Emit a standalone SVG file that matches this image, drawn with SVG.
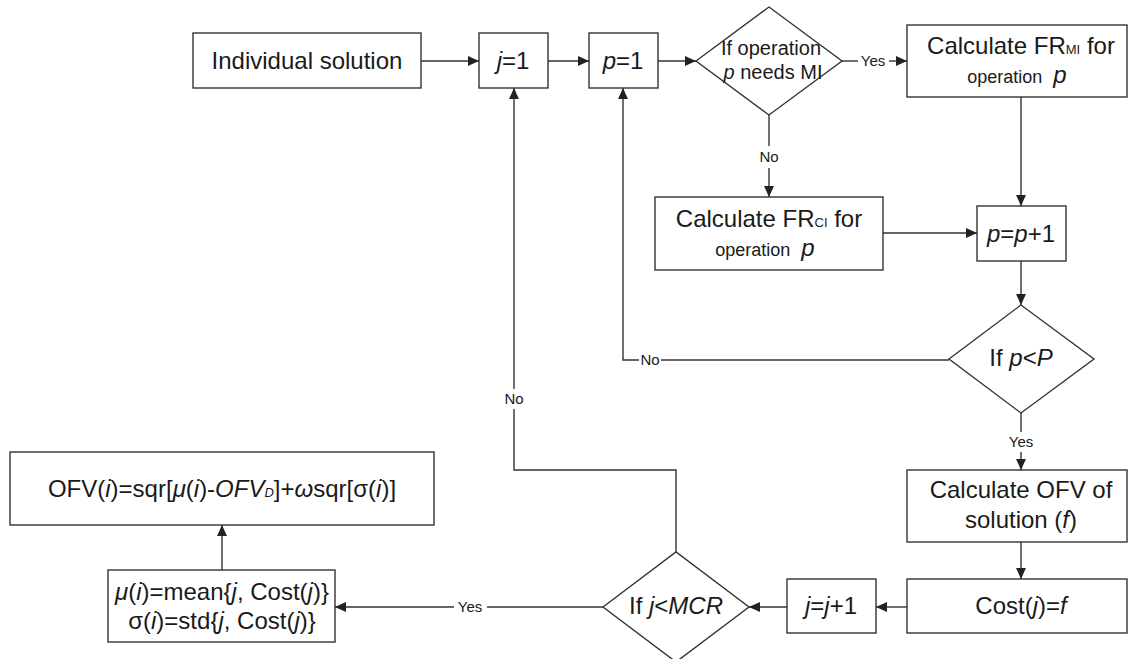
<svg xmlns="http://www.w3.org/2000/svg" width="1131" height="659" viewBox="0 0 1131 659">
<defs>
<style>
.box{fill:#fff;stroke:#333;stroke-width:1.4}
.ln{fill:none;stroke:#333;stroke-width:1.4}
.t{font-family:"Liberation Sans",Arial,sans-serif;font-size:24px;fill:#1a1a1a;text-anchor:middle}
.d{font-size:20px}
.s{font-size:18px}
.lb{font-family:"Liberation Sans",Arial,sans-serif;font-size:15px;fill:#1a1a1a;text-anchor:middle}
.i{font-style:italic}
.sub{font-size:13px}
</style>
<marker id="arr" viewBox="0 0 10 10" refX="10" refY="5" markerWidth="12" markerHeight="11" orient="auto" markerUnits="userSpaceOnUse">
<path d="M0,0.5 L10,5 L0,9.5 z" fill="#222"/>
</marker>
</defs>
<rect width="1131" height="659" fill="#fff"/>

<g id="connectors">
<line class="ln" x1="421" y1="61" x2="479" y2="61" marker-end="url(#arr)"/>
<line class="ln" x1="548" y1="61" x2="589" y2="61" marker-end="url(#arr)"/>
<line class="ln" x1="658" y1="61" x2="696" y2="61" marker-end="url(#arr)"/>
<line class="ln" x1="842" y1="61" x2="858" y2="61"/>
<line class="ln" x1="889" y1="61" x2="907" y2="61" marker-end="url(#arr)"/>
<text class="lb" x="873" y="66">Yes</text>
<line class="ln" x1="769" y1="115" x2="769" y2="146"/>
<line class="ln" x1="769" y1="168" x2="769" y2="197" marker-end="url(#arr)"/>
<text class="lb" x="769" y="162">No</text>
<line class="ln" x1="1021" y1="97" x2="1021" y2="206" marker-end="url(#arr)"/>
<line class="ln" x1="883" y1="233" x2="977" y2="233" marker-end="url(#arr)"/>
<line class="ln" x1="1021" y1="261" x2="1021" y2="305" marker-end="url(#arr)"/>
<polyline class="ln" points="949,360 661,360"/>
<polyline class="ln" points="639,360 623,360 623,88" marker-end="url(#arr)"/>
<text class="lb" x="650" y="365">No</text>
<line class="ln" x1="1021" y1="413" x2="1021" y2="432"/>
<line class="ln" x1="1021" y1="452" x2="1021" y2="470" marker-end="url(#arr)"/>
<text class="lb" x="1021" y="447">Yes</text>
<line class="ln" x1="1021" y1="542" x2="1021" y2="579" marker-end="url(#arr)"/>
<line class="ln" x1="907" y1="607" x2="876" y2="607" marker-end="url(#arr)"/>
<line class="ln" x1="787" y1="607" x2="749" y2="607" marker-end="url(#arr)"/>
<line class="ln" x1="603" y1="607" x2="487" y2="607"/>
<line class="ln" x1="454" y1="607" x2="335" y2="607" marker-end="url(#arr)"/>
<text class="lb" x="470" y="612">Yes</text>
<polyline class="ln" points="676,552 676,470 514,470 514,409"/>
<line class="ln" x1="514" y1="389" x2="514" y2="88" marker-end="url(#arr)"/>
<text class="lb" x="514" y="404">No</text>
<line class="ln" x1="222" y1="570" x2="222" y2="525" marker-end="url(#arr)"/>
</g>

<g id="n_individual">
<rect class="box" x="193" y="33" width="228" height="55"/>
<text class="t" x="307" y="69">Individual solution</text>
</g>
<g id="n_j1">
<rect class="box" x="479" y="33" width="69" height="55"/>
<text class="t" x="513" y="69"><tspan class="i">j</tspan>=1</text>
</g>
<g id="n_p1">
<rect class="box" x="589" y="33" width="69" height="55"/>
<text class="t" x="623" y="69"><tspan class="i">p</tspan>=1</text>
</g>
<g id="n_needsMI">
<polygon class="box" points="696,61 769,7 842,61 769,115"/>
<text class="t d" x="771" y="55">If operation</text>
<text class="t d" x="773" y="79"><tspan class="i">p</tspan> needs MI</text>
</g>
<g id="n_frmi">
<rect class="box" x="907" y="25" width="220" height="72"/>
<text class="t" x="1021" y="54">Calculate FR<tspan class="sub">MI</tspan> for</text>
<text class="t s" x="1017" y="83">operation <tspan class="i" font-size="24" dx="6">p</tspan></text>
</g>
<g id="n_frci">
<rect class="box" x="655" y="197" width="228" height="73"/>
<text class="t" x="769" y="227">Calculate FR<tspan class="sub">CI</tspan> for</text>
<text class="t s" x="765" y="256">operation <tspan class="i" font-size="24" dx="6">p</tspan></text>
</g>
<g id="n_pinc">
<rect class="box" x="977" y="206" width="89" height="55"/>
<text class="t" x="1021" y="242"><tspan class="i">p</tspan>=<tspan class="i">p</tspan>+1</text>
</g>
<g id="n_pltP">
<polygon class="box" points="949,359 1021,305 1094,359 1021,413"/>
<text class="t" x="1021" y="366" font-size="20">If <tspan class="i">p</tspan>&lt;<tspan class="i">P</tspan></text>
</g>
<g id="n_calcofv">
<rect class="box" x="907" y="470" width="220" height="72"/>
<text class="t" x="1021" y="498">Calculate OFV of</text>
<text class="t" x="1021" y="528">solution (<tspan class="i">f</tspan>)</text>
</g>
<g id="n_cost">
<rect class="box" x="907" y="579" width="220" height="54"/>
<text class="t" x="1021" y="614">Cost(<tspan class="i">j</tspan>)=<tspan class="i">f</tspan></text>
</g>
<g id="n_jinc">
<rect class="box" x="787" y="579" width="89" height="54"/>
<text class="t" x="831" y="614"><tspan class="i">j</tspan>=<tspan class="i">j</tspan>+1</text>
</g>
<g id="n_jltMCR">
<polygon class="box" points="603,607 676,552 749,607 676,662"/>
<text class="t" x="676" y="614" font-size="20">If <tspan class="i">j</tspan>&lt;<tspan class="i">MCR</tspan></text>
</g>
<g id="n_stats">
<rect class="box" x="108" y="570" width="227" height="72"/>
<text class="t" x="222" y="600"><tspan class="i">μ</tspan>(<tspan class="i">i</tspan>)=mean{<tspan class="i">j</tspan>, Cost(<tspan class="i">j</tspan>)}</text>
<text class="t" x="222" y="629">σ(<tspan class="i">i</tspan>)=std{<tspan class="i">j</tspan>, Cost(<tspan class="i">j</tspan>)}</text>
</g>
<g id="n_ofv">
<rect class="box" x="10" y="452" width="424" height="73"/>
<text class="t" x="222" y="497">OFV(<tspan class="i">i</tspan>)=sqr[<tspan class="i">μ</tspan>(<tspan class="i">i</tspan>)-<tspan class="i">OFV<tspan class="sub">D</tspan></tspan>]+<tspan class="i">ω</tspan>sqr[σ(<tspan class="i">i</tspan>)]</text>
</g>
</svg>
